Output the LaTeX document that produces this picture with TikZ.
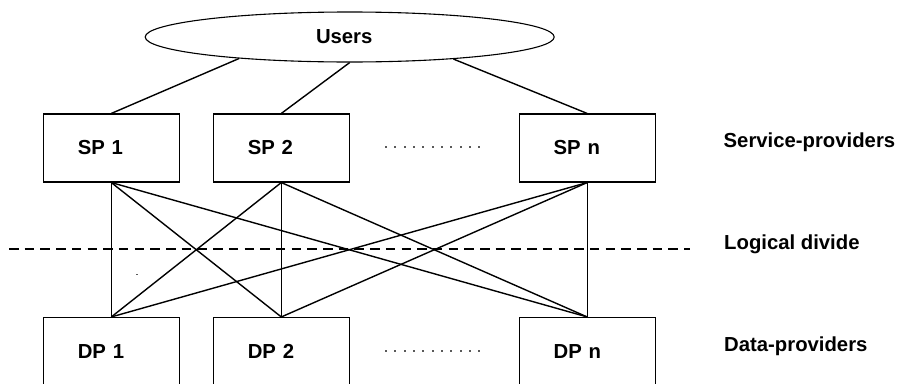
\documentclass[tikz,border=0pt]{standalone}
\usepackage{fontspec}
\setmainfont{Liberation Sans}
\usetikzlibrary{shapes.geometric}
\begin{document}
\begin{tikzpicture}[x=1pt,y=-1pt,
  every node/.style={font=\fontsize{20.3}{24}\selectfont\bfseries},
  provider/.style={draw, line width=1.1pt, minimum width=136pt, minimum height=68pt,
    text width=67pt, align=left, inner xsep=34.5pt, inner ysep=0pt},
  usersnode/.style={draw, ellipse, line width=1.1pt, minimum width=409pt, minimum height=50pt,
    inner sep=0pt, text width=67.4pt, align=left},
  link/.style={line width=1.4pt},
  divide/.style={line width=1.4pt, dash pattern=on 9.5pt off 6.2pt},
  rowlabel/.style={anchor=base west, inner sep=0pt},
  gapdot/.style={fill=black!65}
]
\useasboundingbox (0,0) rectangle (897,383);

\node[usersnode] (users) at (349.7,37) {Users};

\node[provider] (sp1) at (111.3,148) {SP 1};
\node[provider] (sp2) at (281.3,148) {SP 2};
\node[provider] (spn) at (587.2,148) {SP n};

\node[provider] (dp1) at (111.3,351.5) {DP 1};
\node[provider] (dp2) at (281.3,351.5) {DP 2};
\node[provider] (dpn) at (587.2,351.5) {DP n};

\draw[link] (users.191.9) -- (sp1.north);
\draw[link] (users.south) -- (sp2.north);
\draw[link] (users.348.1) -- (spn.north);

\foreach \s in {sp1,sp2,spn}{
  \foreach \d in {dp1,dp2,dpn}{
    \draw[link] (\s.south) -- (\d.north);
  }
}

\coordinate (divL) at (9,249);
\coordinate (divR) at (690,249);
\draw[divide] (divL) -- (divR);

\node[rowlabel] (lsp) at (723.5,147.8) {Service-providers};
\node[rowlabel] (lld) at (724,249.5) {Logical divide};
\node[rowlabel] (ldp) at (724,351.2) {Data-providers};

\foreach \i in {0,...,10}{
  \fill[gapdot] ({386+\i*9.33-0.9},146.4) rectangle ++(1.8,1.8);
  \fill[gapdot] ({386+\i*9.33-0.9},350.2) rectangle ++(1.8,1.8);
}
\fill[gapdot] (135.9,273.5) rectangle ++(1.6,1.6);
\end{tikzpicture}
\end{document}
